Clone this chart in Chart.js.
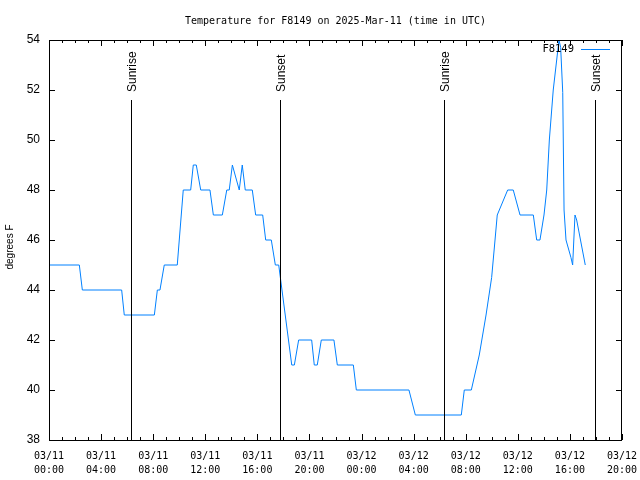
<!DOCTYPE html>
<html>
<head>
<meta charset="utf-8">
<script src="https://cdn.jsdelivr.net/npm/chart.js@4"></script>
<style>
  body { margin: 0; background: #fff; }
  canvas { display: block; }
</style>
</head>
<body>
<canvas id="chart" width="640" height="480"></canvas>
<script>
// hours since 03/11 00:00 UTC
const hours = [0, 2.33, 2.56, 5.58, 5.78, 8.09, 8.32, 8.52, 8.85, 9.85, 10.31, 10.88, 11.08, 11.31, 11.65,
  12.36, 12.62, 13.31, 13.65, 13.84, 14.08, 14.61, 14.84, 15.07, 15.61, 15.87, 16.41, 16.64, 17.07, 17.38,
  17.64, 17.79, 18.64, 18.84, 19.17, 20.17, 20.37, 20.60, 20.91, 21.88, 22.14, 23.37, 23.60, 27.64, 28.13,
  31.66, 31.89, 32.43, 33.04, 33.56, 33.99, 34.25, 34.42, 35.22, 35.65, 36.17, 37.19, 37.45, 37.70, 38.01,
  38.22, 38.42, 38.72, 39.16, 39.29, 39.45, 39.55, 39.70, 40.08, 40.21, 40.39, 40.52, 41.18];
const temps = [45, 45, 44, 44, 43, 43, 44, 44, 45, 45, 48, 48, 49, 49, 48,
  48, 47, 47, 48, 48, 49, 48, 49, 48, 48, 47, 47, 46, 46, 45,
  45, 44.4, 41, 41, 42, 42, 41, 41, 42, 42, 41, 41, 40, 40, 39,
  39, 40, 40, 41.4, 43, 44.5, 46, 47, 48, 48, 47, 47, 46, 46, 47,
  48, 50, 52, 54, 53.7, 51.9, 47.2, 46, 45.3, 45, 47, 46.8, 45];

const sunTimes = [6.30, 17.74, 30.33, 41.93];
const sunNames = ['Sunrise', 'Sunset', 'Sunrise', 'Sunset'];

const xTickLabels = [
  ['03/11', '00:00'], ['03/11', '04:00'], ['03/11', '08:00'], ['03/11', '12:00'],
  ['03/11', '16:00'], ['03/11', '20:00'], ['03/12', '00:00'], ['03/12', '04:00'],
  ['03/12', '08:00'], ['03/12', '12:00'], ['03/12', '16:00'], ['03/12', '20:00']
];
const yTicks = [38, 40, 42, 44, 46, 48, 50, 52, 54];

const monoFont = '"DejaVu Sans Mono", monospace';
const sansFont = '"Liberation Sans", Arial, sans-serif';

const overlay = {
  id: 'overlay',
  afterDraw(chart) {
    const ctx = chart.ctx;
    const a = chart.chartArea;
    const xs = chart.scales.x, ys = chart.scales.y;
    ctx.save();
    ctx.strokeStyle = '#000';
    ctx.lineWidth = 1;

    // frame
    ctx.strokeRect(Math.round(a.left) + 0.5, Math.round(a.top) + 0.5,
      Math.round(a.right - a.left) - 1, Math.round(a.bottom - a.top));

    // x ticks (major every 4 h, minor every hour), inward, mirrored on top
    ctx.beginPath();
    for (let h = 0; h <= 44; h++) {
      const px = Math.round(xs.getPixelForValue(h)) + 0.5;
      const len = h % 4 === 0 ? 6 : 3;
      ctx.moveTo(px, a.bottom); ctx.lineTo(px, a.bottom - len);
      ctx.moveTo(px, a.top); ctx.lineTo(px, a.top + len);
    }
    // y ticks, inward, mirrored on right
    yTicks.forEach(v => {
      const py = Math.round(ys.getPixelForValue(v)) + 0.5;
      ctx.moveTo(a.left, py); ctx.lineTo(a.left + 6, py);
      ctx.moveTo(a.right, py); ctx.lineTo(a.right - 6, py);
    });
    ctx.stroke();

    // sunrise / sunset markers
    ctx.fillStyle = '#000';
    ctx.font = '12px ' + sansFont;
    sunTimes.forEach((t, i) => {
      const px = Math.round(xs.getPixelForValue(t)) + 0.5;
      ctx.beginPath();
      ctx.moveTo(px, 100);
      ctx.lineTo(px, a.bottom);
      ctx.stroke();
      ctx.save();
      ctx.translate(px + 1, 92);
      ctx.rotate(-Math.PI / 2);
      ctx.textAlign = 'left';
      ctx.textBaseline = 'middle';
      ctx.fillText(sunNames[i], 0, 0);
      ctx.restore();
    });

    // y axis title
    ctx.save();
    ctx.translate(10, 247);
    ctx.rotate(-Math.PI / 2);
    ctx.textAlign = 'center';
    ctx.textBaseline = 'middle';
    ctx.font = '10px ' + sansFont;
    ctx.fillText('degrees F', 0, 0);
    ctx.restore();

    // legend
    ctx.font = '10.5px ' + monoFont;
    ctx.textAlign = 'right';
    ctx.textBaseline = 'middle';
    ctx.fillText('F8149', 574, 49);
    ctx.strokeStyle = '#0080ff';
    ctx.beginPath();
    ctx.moveTo(581, 49.5);
    ctx.lineTo(610, 49.5);
    ctx.stroke();
    ctx.restore();
  }
};

new Chart(document.getElementById('chart'), {
  type: 'line',
  data: {
    datasets: [{
      label: 'F8149',
      data: hours.map((h, i) => ({ x: h, y: temps[i] })),
      borderColor: '#0080ff',
      borderWidth: 1,
      pointRadius: 0,
      tension: 0,
      fill: false
    }]
  },
  options: {
    responsive: false,
    animation: false,
    devicePixelRatio: 1,
    layout: { padding: 0 },
    plugins: {
      legend: { display: false },
      tooltip: { enabled: false },
      title: {
        display: true,
        fullSize: false,
        text: 'Temperature for F8149 on 2025-Mar-11 (time in UTC)',
        color: '#000',
        font: { family: monoFont, size: 10, weight: 'normal' },
        padding: { top: 15, bottom: 13 }
      }
    },
    scales: {
      x: {
        type: 'linear',
        min: 0,
        max: 44,
        grid: { display: false, drawTicks: false },
        border: { display: false },
        afterBuildTicks: s => { s.ticks = xTickLabels.map((_, i) => ({ value: i * 4 })); },
        afterFit: s => { s.height = 40; s.paddingLeft = 0; s.paddingRight = 18; },
        ticks: {
          autoSkip: false,
          maxRotation: 0,
          padding: 9,
          color: '#000',
          font: { family: monoFont, size: 10, lineHeight: 1.4 },
          callback: (v, i) => xTickLabels[i]
        }
      },
      y: {
        min: 38,
        max: 54,
        grid: { display: false, drawTicks: false },
        border: { display: false },
        afterBuildTicks: s => { s.ticks = yTicks.map(v => ({ value: v })); },
        afterFit: s => { s.width = 49; s.paddingTop = 0; s.paddingBottom = 0; },
        ticks: {
          padding: 9,
          color: '#000',
          font: { family: sansFont, size: 12 }
        }
      }
    }
  },
  plugins: [overlay]
});
</script>
</body>
</html>
